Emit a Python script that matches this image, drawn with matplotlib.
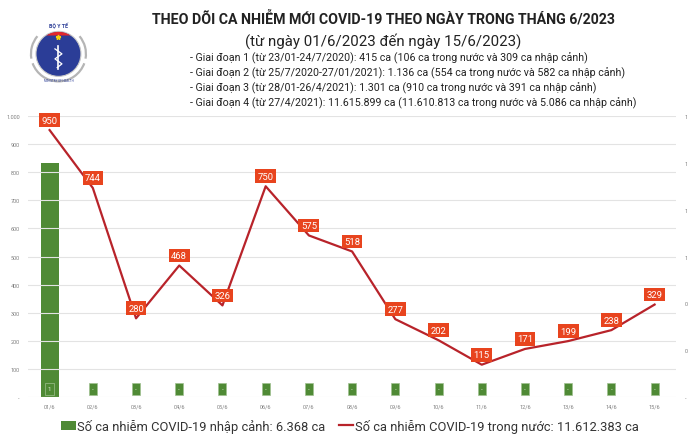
import numpy as np
import matplotlib.pyplot as plt
from matplotlib.patches import Circle, Polygon, Patch, Arc
from matplotlib.lines import Line2D

plt.rcParams['font.family'] = ['Roboto', 'DejaVu Sans']

# dữ liệu
ngay = ['01/6', '02/6', '03/6', '04/6', '05/6', '06/6', '07/6', '08/6',
        '09/6', '10/6', '11/6', '12/6', '13/6', '14/6', '15/6']
trong_nuoc = [950, 744, 280, 468, 326, 750, 575, 518, 277, 202, 115, 171, 199, 238, 329]
nhap_canh = [1, 0, 0, 0, 0, 0, 0, 0, 0, 0, 0, 0, 0, 0, 0]

tieu_de = 'THEO DÕI CA NHIỄM MỚI COVID-19 THEO NGÀY TRONG THÁNG 6/2023'
phu_de = '(từ ngày 01/6/2023 đến ngày 15/6/2023)'
giai_doan = [
    '- Giai đoạn 1 (từ 23/01-24/7/2020): 415 ca (106 ca trong nước và 309 ca nhập cảnh)',
    '- Giai đoạn 2 (từ 25/7/2020-27/01/2021): 1.136 ca (554 ca trong nước và 582 ca nhập cảnh)',
    '- Giai đoạn 3 (từ 28/01-26/4/2021): 1.301 ca (910 ca trong nước và 391 ca nhập cảnh)',
    '- Giai đoạn 4 (từ 27/4/2021): 11.615.899 ca (11.610.813 ca trong nước và 5.086 ca nhập cảnh)',
]
nhan_cot = 'Số ca nhiễm COVID-19 nhập cảnh: 6.368 ca'
nhan_duong = 'Số ca nhiễm COVID-19 trong nước: 11.612.383 ca'

xanh = '#4f8a35'
do_duong = '#b8232a'
do_nhan = '#e8441e'
xam = '#7f7f7f'

fig = plt.figure(figsize=(7, 4.39), dpi=100)

# trục chính
ax = fig.add_axes([0.04, 0.0934, 0.926, 0.640])
ax2 = ax.twinx()
x = np.arange(len(ngay))

ax2.bar(x, nhap_canh, width=0.42, color=xanh, zorder=2)
ax2.set_ylim(0, 1.2)
ax2.set_yticks(np.arange(0, 1.21, 0.2))
ax2.set_yticklabels(['-' if v == 0 else '%.0f' % v for v in np.arange(0, 1.21, 0.2)])

ax.set_zorder(ax2.get_zorder() + 1)
ax.patch.set_visible(False)
ax.plot(x, trong_nuoc, color=do_duong, lw=1.6, zorder=3)
ax.set_ylim(0, 1000)
ax.set_xlim(-0.5, len(ngay) - 0.5)
ax.set_yticks(range(0, 1001, 100))
ax.set_yticklabels(['-' if v == 0 else f'{v:,}'.replace(',', '.') for v in range(0, 1001, 100)])
ax.set_xticks(x)
ax.set_xticklabels(ngay)
ax.grid(axis='y', color='#e3e3e3', lw=0.8)
ax.set_axisbelow(True)

for a in (ax, ax2):
    for s in a.spines.values():
        s.set_visible(False)
    a.tick_params(length=0, labelsize=4, colors=xam, pad=6)
ax.tick_params(axis='x', pad=5)

# nhãn đường
for xi, v in zip(x, trong_nuoc):
    ax.annotate(str(v), (xi, v), xytext=(0, 10), textcoords='offset pixels',
                ha='center', va='center', color='white', fontsize=6.8, zorder=5,
                bbox=dict(boxstyle='square,pad=0.25', fc=do_nhan, ec='none'))

# nhãn cột
for xi, v in zip(x, nhap_canh):
    ax.annotate('-' if v == 0 else str(v), (xi, 0), xytext=(0, 8), textcoords='offset pixels',
                ha='center', va='center', color='#dfe9d8', fontsize=4.5, zorder=5,
                bbox=dict(boxstyle='square,pad=0.5', fc=xanh, ec='#9fc08f', lw=0.5))

# tiêu đề
fig.text(0.548, 0.957, tieu_de, ha='center', va='center', fontsize=10.2,
         fontweight='bold', color='#222222')
fig.text(0.548, 0.906, phu_de, ha='center', va='center', fontsize=10.8, color='#222222')
for i, dong in enumerate(giai_doan):
    fig.text(0.271, 0.867 - i * 0.034, dong, ha='left', va='center', fontsize=7.7,
             color='#222222')

# logo
lax = fig.add_axes([0.037, 0.801, 0.093, 0.148])
lax.set_xlim(-1.3, 1.3)
lax.set_ylim(-1.3, 1.3)
lax.set_aspect('equal')
lax.axis('off')
lax.add_patch(Arc((0, 0), 2.2, 2.2, theta1=200, theta2=340, ec='#b5b5b5', lw=1.6))
lax.add_patch(Arc((0, 0), 2.2, 2.2, theta1=-10, theta2=40, ec='#b5b5b5', lw=1.6))
lax.add_patch(Arc((0, 0), 2.2, 2.2, theta1=140, theta2=190, ec='#b5b5b5', lw=1.6))
lax.add_patch(Circle((0, 0), 0.9, fc='#2b3d97', ec='#c8c8c8', lw=0.8))
t = np.linspace(np.arccos(0.55), np.pi - np.arccos(0.55), 40)
lax.add_patch(Polygon(np.c_[0.88 * np.cos(t), 0.88 * np.sin(t)], fc='#e3262b', ec='none'))
lax.plot([0, 0], [-0.6, 0.3], color='white', lw=1.2)
lax.plot([-0.14, 0.14, -0.14, 0.14, -0.05], [0.2, 0.0, -0.2, -0.4, -0.55], color='white', lw=0.9)
lax.plot(0, 0.66, marker='*', color='#f5d20a', ms=3.5)
lax.text(0, 1.17, 'BỘ Y TẾ', ha='center', va='center', fontsize=3.8, color='#2b3d97',
         fontweight='bold')
lax.text(0, -1.05, 'MINISTRY OF HEALTH', ha='center', va='center', fontsize=2.2,
         color='#2b3d97')

# chú thích
handles = [Patch(fc=xanh, ec='none'), Line2D([0], [0], color=do_duong, lw=1.6)]
fig.legend(handles, [nhan_cot, nhan_duong], loc='center', bbox_to_anchor=(0.5, 0.028),
           ncol=2, frameon=False, fontsize=9.3, handlelength=1.1, handletextpad=0.15,
           columnspacing=1.0, labelcolor='#333333')

fig.savefig('out.png', dpi=100)
